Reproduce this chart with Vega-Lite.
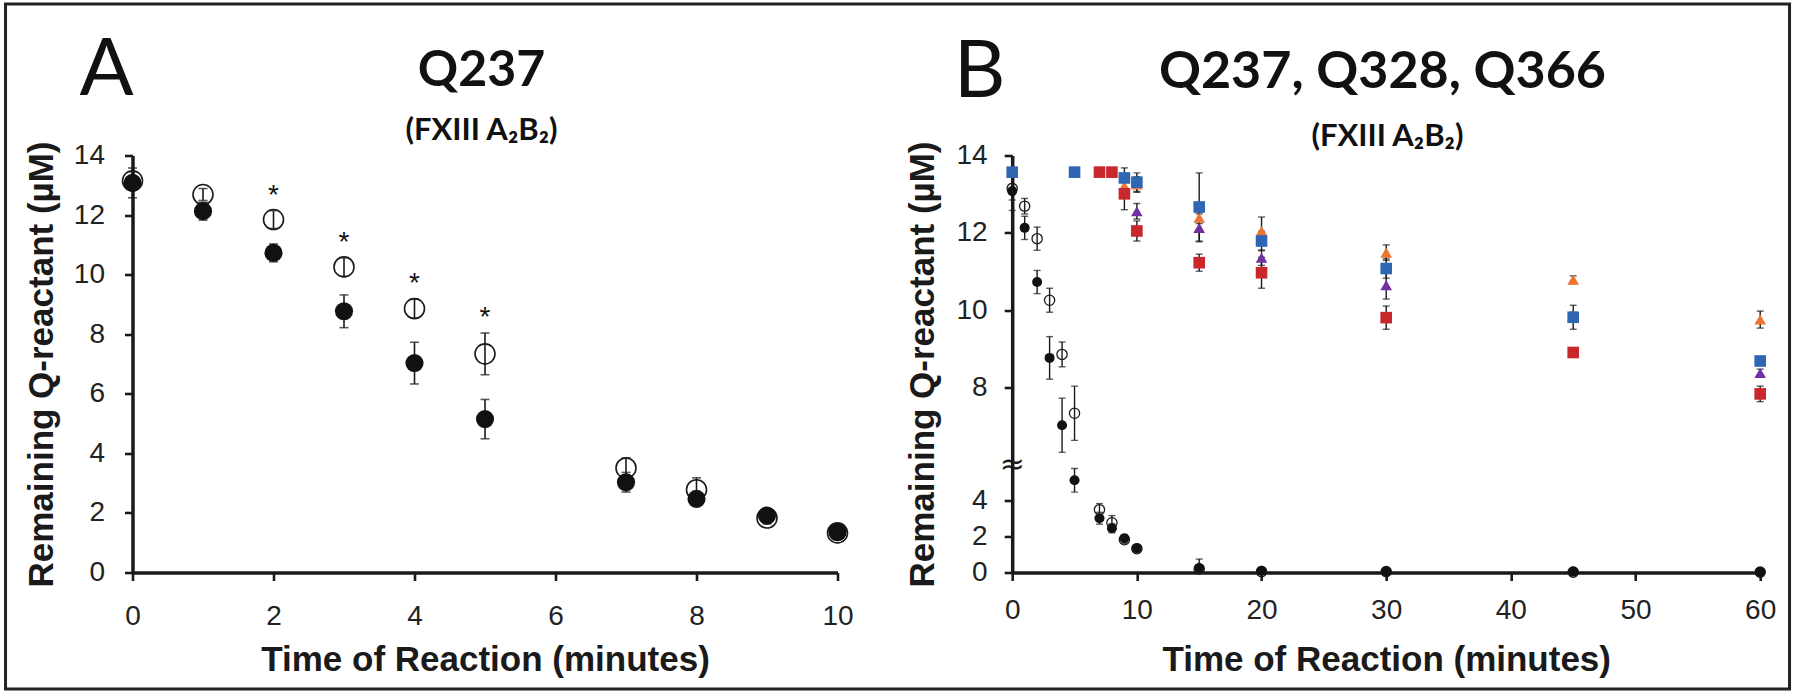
{
  "$schema": "https://vega.github.io/schema/vega-lite/v6.json",
  "background": "white",
  "padding": {"left": 3.5, "top": 2.5, "right": 5, "bottom": 3},
  "autosize": {"type": "pad"},
  "bounds": "flush",
  "spacing": 174.7,
  "datasets": {
    "q237": [
      {"t": 0, "s": "open", "v": 13.15, "lo": 12.85, "hi": 13.45},
      {"t": 1, "s": "open", "v": 12.69, "lo": 12.49, "hi": 12.89},
      {"t": 2, "s": "open", "v": 11.85, "lo": 11.55, "hi": 12.15, "sig": "*"},
      {"t": 3, "s": "open", "v": 10.26, "lo": 9.95, "hi": 10.57, "sig": "*"},
      {"t": 4, "s": "open", "v": 8.86, "lo": 8.54, "hi": 9.18, "sig": "*"},
      {"t": 5, "s": "open", "v": 7.34, "lo": 6.64, "hi": 8.04, "sig": "*"},
      {"t": 7, "s": "open", "v": 3.51, "lo": 3.17, "hi": 3.85},
      {"t": 8, "s": "open", "v": 2.78, "lo": 2.38, "hi": 3.18},
      {"t": 9, "s": "open", "v": 1.83, "lo": 1.63, "hi": 2.03},
      {"t": 10, "s": "open", "v": 1.33, "lo": 1.23, "hi": 1.43},
      {"t": 15, "s": "open", "v": 0.2, "lo": 0.05, "hi": 0.35},
      {"t": 20, "s": "open", "v": 0.05, "lo": 0.0, "hi": 0.1},
      {"t": 30, "s": "open", "v": 0.05, "lo": 0.0, "hi": 0.1},
      {"t": 45, "s": "open", "v": 0.02, "lo": 0.0, "hi": 0.04},
      {"t": 60, "s": "open", "v": 0.02, "lo": 0.0, "hi": 0.04},
      {"t": 0, "s": "filled", "v": 13.08, "lo": 12.58, "hi": 13.58},
      {"t": 1, "s": "filled", "v": 12.13, "lo": 11.83, "hi": 12.43},
      {"t": 2, "s": "filled", "v": 10.73, "lo": 10.43, "hi": 11.03},
      {"t": 3, "s": "filled", "v": 8.77, "lo": 8.22, "hi": 9.32},
      {"t": 4, "s": "filled", "v": 7.03, "lo": 6.33, "hi": 7.73},
      {"t": 5, "s": "filled", "v": 5.15, "lo": 4.49, "hi": 5.81},
      {"t": 7, "s": "filled", "v": 3.03, "lo": 2.7, "hi": 3.36},
      {"t": 8, "s": "filled", "v": 2.47, "lo": 2.22, "hi": 2.72},
      {"t": 9, "s": "filled", "v": 1.91, "lo": 1.71, "hi": 2.11},
      {"t": 10, "s": "filled", "v": 1.35, "lo": 1.2, "hi": 1.5},
      {"t": 15, "s": "filled", "v": 0.25, "lo": 0.0, "hi": 0.75},
      {"t": 20, "s": "filled", "v": 0.1, "lo": 0.02, "hi": 0.18},
      {"t": 30, "s": "filled", "v": 0.06, "lo": 0.0, "hi": 0.12},
      {"t": 45, "s": "filled", "v": 0.05, "lo": 0.0, "hi": 0.1},
      {"t": 60, "s": "filled", "v": 0.03, "lo": 0.0, "hi": 0.06}
    ],
    "others": [
      {"t": 9, "s": "S1", "v": 13.21, "lo": 13.01, "hi": 13.41},
      {"t": 10, "s": "S1", "v": 13.25, "lo": 13.05, "hi": 13.45},
      {"t": 15, "s": "S1", "v": 12.39, "lo": 12.24, "hi": 12.54},
      {"t": 20, "s": "S1", "v": 12.05, "lo": 11.69, "hi": 12.41},
      {"t": 30, "s": "S1", "v": 11.49, "lo": 11.29, "hi": 11.69},
      {"t": 45, "s": "S1", "v": 10.79, "lo": 10.69, "hi": 10.89},
      {"t": 60, "s": "S1", "v": 9.76, "lo": 9.54, "hi": 9.98},
      {"t": 10, "s": "S2", "v": 12.56, "lo": 12.36, "hi": 12.76},
      {"t": 15, "s": "S2", "v": 12.13, "lo": 11.77, "hi": 12.49},
      {"t": 20, "s": "S2", "v": 11.36, "lo": 11.16, "hi": 11.56},
      {"t": 30, "s": "S2", "v": 10.65, "lo": 10.29, "hi": 11.01},
      {"t": 45, "s": "S2", "v": 9.85, "lo": 9.75, "hi": 9.95},
      {"t": 60, "s": "S2", "v": 8.38, "lo": 8.28, "hi": 8.48},
      {"t": 0, "s": "S3", "v": 13.57, "lo": 13.57, "hi": 13.57},
      {"t": 5, "s": "S3", "v": 13.57, "lo": 13.57, "hi": 13.57},
      {"t": 9, "s": "S3", "v": 13.42, "lo": 13.16, "hi": 13.68},
      {"t": 10, "s": "S3", "v": 13.31, "lo": 13.07, "hi": 13.55},
      {"t": 15, "s": "S3", "v": 12.67, "lo": 11.79, "hi": 13.55},
      {"t": 20, "s": "S3", "v": 11.79, "lo": 11.54, "hi": 12.04},
      {"t": 30, "s": "S3", "v": 11.08, "lo": 10.83, "hi": 11.33},
      {"t": 45, "s": "S3", "v": 9.82, "lo": 9.51, "hi": 10.13},
      {"t": 60, "s": "S3", "v": 8.69, "lo": 8.59, "hi": 8.79},
      {"t": 7, "s": "S4", "v": 13.57, "lo": 13.57, "hi": 13.57},
      {"t": 8, "s": "S4", "v": 13.57, "lo": 13.57, "hi": 13.57},
      {"t": 9, "s": "S4", "v": 13.01, "lo": 12.6, "hi": 13.42},
      {"t": 10, "s": "S4", "v": 12.05, "lo": 11.79, "hi": 12.31},
      {"t": 15, "s": "S4", "v": 11.23, "lo": 11.01, "hi": 11.45},
      {"t": 20, "s": "S4", "v": 10.97, "lo": 10.57, "hi": 11.37},
      {"t": 30, "s": "S4", "v": 9.81, "lo": 9.51, "hi": 10.11},
      {"t": 45, "s": "S4", "v": 8.91, "lo": 8.91, "hi": 8.91},
      {"t": 60, "s": "S4", "v": 7.84, "lo": 7.64, "hi": 8.04}
    ]
  },
  "config": {
    "view": {"stroke": null},
    "axis": {
      "grid": false,
      "domainColor": "#1a1a1a",
      "domainWidth": 3.5,
      "tickColor": "#1a1a1a",
      "tickWidth": 2.6,
      "tickSize": 8,
      "labelFont": "Liberation Sans",
      "labelFontSize": 28,
      "labelColor": "#222222",
      "labelFlush": false,
      "labelOverlap": false,
      "labelBound": false,
      "format": "d",
      "titleFont": "Liberation Sans",
      "titleFontSize": 35,
      "titleFontWeight": "bold",
      "titleColor": "#1a1a1a"
    }
  },
  "hconcat": [
    {
      "width": 705,
      "height": 417,
      "layer": [
        {
          "data": {"name": "q237"},
          "transform": [{"filter": "datum.t <= 10"}],
          "mark": {"type": "errorbar", "ticks": true, "size": 9, "thickness": 1.6, "color": "#1a1a1a"},
          "encoding": {
            "x": {"field": "t", "type": "quantitative", "title": "Time of Reaction (minutes)", "scale": {"domain": [0, 10], "nice": false, "zero": false},
                  "axis": {"values": [0, 2, 4, 6, 8, 10], "format": "d", "labelPadding": 22, "titlePadding": 12}},
            "y": {"field": "lo", "type": "quantitative", "title": "Remaining Q-reactant (µM)", "scale": {"domain": [0, 14], "nice": false},
                  "axis": {"values": [0, 2, 4, 6, 8, 10, 12, 14], "format": "d", "labelPadding": 20, "titlePadding": 14}},
            "y2": {"field": "hi"}
          }
        },
        {
          "data": {"name": "q237"},
          "transform": [{"filter": "datum.t <= 10 && datum.s == 'open'"}],
          "mark": {"type": "point", "shape": "circle", "filled": false, "size": 400, "strokeWidth": 1.6, "color": "#1a1a1a", "opacity": 1},
          "encoding": {
            "x": {"field": "t", "type": "quantitative", "title": "Time of Reaction (minutes)"},
            "y": {"field": "v", "type": "quantitative", "title": "Remaining Q-reactant (µM)"}
          }
        },
        {
          "data": {"name": "q237"},
          "transform": [{"filter": "datum.t <= 10 && datum.s == 'filled'"}],
          "mark": {"type": "point", "shape": "circle", "filled": true, "size": 330, "color": "#111111", "opacity": 1},
          "encoding": {
            "x": {"field": "t", "type": "quantitative", "title": "Time of Reaction (minutes)"},
            "y": {"field": "v", "type": "quantitative", "title": "Remaining Q-reactant (µM)"}
          }
        },
        {
          "data": {"name": "q237"},
          "transform": [{"filter": "datum.sig == '*'"}],
          "mark": {"type": "text", "font": "Liberation Sans", "fontSize": 28, "baseline": "alphabetic", "align": "center", "dy": -7, "color": "#111111"},
          "encoding": {
            "x": {"field": "t", "type": "quantitative", "title": "Time of Reaction (minutes)"},
            "y": {"field": "hi", "type": "quantitative", "title": "Remaining Q-reactant (µM)"},
            "text": {"field": "sig"}
          }
        },
        {
          "data": {"values": [{}]},
          "mark": {"type": "rect", "filled": false, "stroke": "#222222", "strokeWidth": 3},
          "encoding": {
            "x": {"datum": -1.801}, "x2": {"datum": 23.504},
            "y": {"datum": -3.911}, "y2": {"datum": 19.086}
          }
        },
        {
          "data": {"values": [{}]},
          "mark": {"type": "text", "text": "A", "font": "Lato", "fontWeight": "normal", "fontSize": 80, "align": "center", "baseline": "alphabetic", "color": "#111111"},
          "encoding": {"x": {"datum": -0.369}, "y": {"datum": 16.03}}
        },
        {
          "data": {"values": [{}]},
          "mark": {"type": "text", "text": "Q237", "font": "Lato", "fontWeight": "bold", "fontSize": 50, "align": "center", "baseline": "alphabetic", "color": "#111111"},
          "encoding": {"x": {"datum": 4.95}, "y": {"datum": 16.33}}
        },
        {
          "data": {"values": [{}]},
          "mark": {"type": "text", "text": "(FXIII A₂B₂)", "font": "Lato", "fontWeight": "bold", "fontSize": 31, "align": "center", "baseline": "alphabetic", "color": "#111111"},
          "encoding": {"x": {"datum": 4.95}, "y": {"datum": 14.52}}
        }
      ]
    },
    {
      "width": 748,
      "height": 417,
      "layer": [
        {
          "data": {"name": "q237"},
          "mark": {"type": "errorbar", "ticks": true, "size": 7, "thickness": 1.4, "color": "#1a1a1a"},
          "encoding": {
            "x": {"field": "t", "type": "quantitative", "title": "Time of Reaction (minutes)", "scale": {"domain": [0, 60], "nice": false, "zero": false},
                  "axis": {"values": [0, 10, 20, 30, 40, 50, 60], "format": "d", "labelPadding": 16, "titlePadding": 18}},
            "y": {"field": "lo", "type": "quantitative", "title": "Remaining Q-reactant (µM)", "scale": {"domain": [0, 6, 14], "range": [417, 309.6, 0], "nice": false},
                  "axis": {"values": [0, 2, 4, 8, 10, 12, 14], "format": "d", "labelPadding": 17, "titlePadding": 16}},
            "y2": {"field": "hi"}
          }
        },
        {
          "data": {"name": "others"},
          "mark": {"type": "errorbar", "ticks": true, "size": 7, "thickness": 1.4, "color": "#1a1a1a"},
          "encoding": {
            "x": {"field": "t", "type": "quantitative", "title": "Time of Reaction (minutes)"},
            "y": {"field": "lo", "type": "quantitative", "title": "Remaining Q-reactant (µM)"},
            "y2": {"field": "hi"}
          }
        },
        {
          "data": {"name": "q237"},
          "transform": [{"filter": "datum.s == 'open'"}],
          "mark": {"type": "point", "shape": "circle", "filled": false, "size": 105, "strokeWidth": 1.3, "color": "#1a1a1a", "opacity": 1},
          "encoding": {
            "x": {"field": "t", "type": "quantitative", "title": "Time of Reaction (minutes)"},
            "y": {"field": "v", "type": "quantitative", "title": "Remaining Q-reactant (µM)"}
          }
        },
        {
          "data": {"name": "q237"},
          "transform": [{"filter": "datum.s == 'filled'"}],
          "mark": {"type": "point", "shape": "circle", "filled": true, "size": 100, "color": "#111111", "opacity": 1},
          "encoding": {
            "x": {"field": "t", "type": "quantitative", "title": "Time of Reaction (minutes)"},
            "y": {"field": "v", "type": "quantitative", "title": "Remaining Q-reactant (µM)"}
          }
        },
        {
          "data": {"name": "others"},
          "mark": {"type": "point", "filled": true, "size": 135, "opacity": 1},
          "encoding": {
            "x": {"field": "t", "type": "quantitative", "title": "Time of Reaction (minutes)"},
            "y": {"field": "v", "type": "quantitative", "title": "Remaining Q-reactant (µM)"},
            "color": {"field": "s", "type": "nominal", "legend": null,
                      "scale": {"domain": ["S1", "S2", "S3", "S4"], "range": ["#EC7430", "#7030A0", "#2F66B3", "#C8282B"]}},
            "shape": {"field": "s", "type": "nominal", "legend": null,
                      "scale": {"domain": ["S1", "S2", "S3", "S4"], "range": ["triangle-up", "triangle-up", "square", "square"]}}
          }
        },
        {
          "data": {"values": [{}]},
          "mark": {"type": "text", "text": "≈", "font": "DejaVu Sans", "fontSize": 30, "align": "center", "baseline": "middle", "color": "#1a1a1a"},
          "encoding": {"x": {"datum": 0}, "y": {"datum": 6}}
        },
        {
          "data": {"values": [{}]},
          "mark": {"type": "text", "text": "B", "font": "Lato", "fontWeight": "normal", "fontSize": 80, "align": "center", "baseline": "alphabetic", "color": "#111111"},
          "encoding": {"x": {"datum": -2.62}, "y": {"datum": 15.52}}
        },
        {
          "data": {"values": [{}]},
          "mark": {"type": "text", "text": "Q237, Q328, Q366", "font": "Lato", "fontWeight": "bold", "fontSize": 52, "align": "center", "baseline": "alphabetic", "color": "#111111"},
          "encoding": {"x": {"datum": 29.7}, "y": {"datum": 15.744}}
        },
        {
          "data": {"values": [{}]},
          "mark": {"type": "text", "text": "(FXIII A₂B₂)", "font": "Lato", "fontWeight": "bold", "fontSize": 31, "align": "center", "baseline": "alphabetic", "color": "#111111"},
          "encoding": {"x": {"datum": 30.1}, "y": {"datum": 14.25}}
        }
      ]
    }
  ]
}
